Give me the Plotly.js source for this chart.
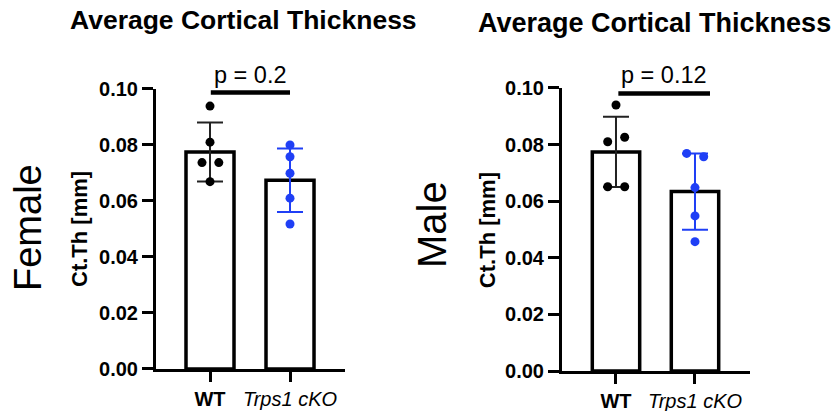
<!DOCTYPE html>
<html><head><meta charset="utf-8">
<script src="https://cdn.plot.ly/plotly-3.0.1.min.js"></script>
<style>html,body{margin:0;padding:0;background:#fff}#chart{width:836px;height:411px}</style>
</head><body><div id="chart"></div>
<script>
// ---- data ----
const groups = ['WT', 'Trps1 cKO'];
const tickLabels = ['<b>WT</b>', '<i>Trps1 cKO</i>'];
const yTicks = [0, 0.02, 0.04, 0.06, 0.08, 0.10];
const yTickText = ['0.00', '0.02', '0.04', '0.06', '0.08', '0.10'];

const femaleMean = [0.0775, 0.0674];
const femaleSD = [0.0105, 0.0113];
const femaleWT = [0.0939, 0.0810, 0.0737, 0.0737, 0.0669];
const femaleKO = [0.0800, 0.0758, 0.0699, 0.0610, 0.0518];
const femaleP = 'p = 0.2';

const maleMean = [0.0774, 0.0634];
const maleSD = [0.0124, 0.0135];
const maleWT = [0.0940, 0.0826, 0.0810, 0.0651, 0.0651];
const maleKO = [0.0769, 0.0757, 0.0648, 0.0548, 0.0457];
const maleP = 'p = 0.12';

// horizontal scatter of the dots (category units)
const femaleWTJit = [0, 0, -0.10, 0.11, 0];
const femaleKOJit = [0, 0, 0, 0, 0];
const maleWTJit = [0, 0.11, -0.105, -0.105, 0.11];
const maleKOJit = [-0.105, 0.11, 0, 0, 0];

// significance bar extents (category units) and level (data units)
const femaleSig = {x: [0.01, 1.0], y: 0.0987};
const maleSig = {x: [0.03, 1.19], y: 0.0981};

// ---- styles ----
const FONT = 'Liberation Sans, Arial, Helvetica, sans-serif';
const BLUE = '#1f3ff5';
const groupColors = ['#000000', BLUE];

function panel(xa, ya, means, sds, wt, ko, wtJ, koJ, sig) {
  const xr = xa.replace('axis', ''), yr = ya.replace('axis', '');
  const t = [];
  t.push({type: 'bar', x: [0, 1], y: means, width: 0.6, xaxis: xr, yaxis: yr,
    marker: {color: 'white', line: {color: 'black', width: 3.5}}, hoverinfo: 'skip'});
  [wt, ko].forEach((pts, g) => {
    t.push({type: 'scatter', mode: 'markers', x: [g], y: [means[g]], xaxis: xr, yaxis: yr,
      marker: {color: 'rgba(0,0,0,0)', size: 1},
      error_y: {type: 'data', array: [sds[g]], color: g === 0 ? '#222' : BLUE, thickness: 2, width: 13},
      cliponaxis: false, hoverinfo: 'skip'});
  });
  t.push({type: 'scatter', mode: 'markers', x: wt.map((v, i) => 0 + wtJ[i]), y: wt, xaxis: xr, yaxis: yr,
    marker: {color: groupColors[0], size: 9}, cliponaxis: false});
  t.push({type: 'scatter', mode: 'markers', x: ko.map((v, i) => 1 + koJ[i]), y: ko, xaxis: xr, yaxis: yr,
    marker: {color: groupColors[1], size: 9}, cliponaxis: false});
  t.push({type: 'scatter', mode: 'lines', x: sig.x, y: [sig.y, sig.y], xaxis: xr, yaxis: yr,
    line: {color: 'black', width: 4.5}, cliponaxis: false, hoverinfo: 'skip'});
  return t;
}

const data = [].concat(
  panel('xaxis', 'yaxis', femaleMean, femaleSD, femaleWT, femaleKO, femaleWTJit, femaleKOJit, femaleSig),
  panel('xaxis2', 'yaxis2', maleMean, maleSD, maleWT, maleKO, maleWTJit, maleKOJit, maleSig)
);

function xAxis(domain, range, anchor) {
  return {domain, range, anchor, tickvals: [0, 1], ticktext: tickLabels,
    showline: true, linewidth: 3, linecolor: 'black', ticks: 'outside', ticklen: 10, tickwidth: 3,
    tickcolor: 'black', showgrid: false, zeroline: false, fixedrange: true,
    tickfont: {family: FONT, size: 20, color: 'black'}};
}
function yAxis(domain, anchor) {
  return {domain, range: [0, 0.1], anchor, tickvals: yTicks, ticktext: yTickText,
    showline: true, linewidth: 3, linecolor: 'black', ticks: 'outside', ticklen: 11, tickwidth: 3,
    tickcolor: 'black', showgrid: false, zeroline: false, fixedrange: true,
    tickfont: {family: FONT, size: 20, color: 'black', weight: 'bold'}};
}

const layout = {
  width: 836, height: 411, margin: {l: 0, r: 0, t: 0, b: 0},
  paper_bgcolor: 'white', plot_bgcolor: 'white', showlegend: false,
  xaxis: xAxis([0.1866, 0.4127], [-0.675, 1.6875], 'y'),
  yaxis: yAxis([0.1022, 0.7835], 'x'),
  xaxis2: xAxis([0.6722, 0.8971], [-0.684, 1.696], 'y2'),
  yaxis2: yAxis([0.0973, 0.7859], 'x2'),
  annotations: [
    {xref: 'paper', yref: 'paper', x: 0.2907, y: 0.9513, text: '<b>Average Cortical Thickness</b>',
      showarrow: false, xanchor: 'center', yanchor: 'middle', font: {family: FONT, size: 26.5, color: 'black'}},
    {xref: 'paper', yref: 'paper', x: 0.7823, y: 0.944, text: '<b>Average Cortical Thickness</b>',
      showarrow: false, xanchor: 'center', yanchor: 'middle', font: {family: FONT, size: 27, color: 'black'}},
    {xref: 'paper', yref: 'paper', x: 0.0335, y: 0.4453, text: 'Female', textangle: -90,
      showarrow: false, xanchor: 'center', yanchor: 'middle', font: {family: FONT, size: 38, color: 'black'}},
    {xref: 'paper', yref: 'paper', x: 0.5167, y: 0.455, text: 'Male', textangle: -90,
      showarrow: false, xanchor: 'center', yanchor: 'middle', font: {family: FONT, size: 40, color: 'black'}},
    {xref: 'paper', yref: 'paper', x: 0.0945, y: 0.4428, text: '<b>Ct.Th [mm]</b>', textangle: -90,
      showarrow: false, xanchor: 'center', yanchor: 'middle', font: {family: FONT, size: 22, color: 'black'}},
    {xref: 'paper', yref: 'paper', x: 0.5825, y: 0.44, text: '<b>Ct.Th [mm]</b>', textangle: -90,
      showarrow: false, xanchor: 'center', yanchor: 'middle', font: {family: FONT, size: 22, color: 'black'}},
    {xref: 'x', yref: 'y', x: 0.5, y: femaleSig.y, text: femaleP, showarrow: false,
      xanchor: 'center', yanchor: 'bottom', yshift: 3, font: {family: FONT, size: 23.5, color: 'black'}},
    {xref: 'x2', yref: 'y2', x: 0.61, y: maleSig.y, text: maleP, showarrow: false,
      xanchor: 'center', yanchor: 'bottom', yshift: 3, font: {family: FONT, size: 23.5, color: 'black'}}
  ]
};

Plotly.newPlot('chart', data, layout, {staticPlot: true, displayModeBar: false});
</script>
</body></html>
